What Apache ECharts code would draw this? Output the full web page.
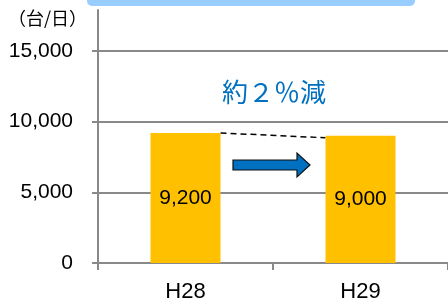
<!DOCTYPE html>
<html><head><meta charset="utf-8">
<script src="https://cdn.jsdelivr.net/npm/echarts@6/dist/echarts.min.js"></script>
<style>html,body{margin:0;padding:0;background:#fff}#c{width:448px;height:303px}</style>
</head><body><div id="c"></div>
<script>
var categories = ['H28', 'H29'];
var values = [9200, 9000];
var yTicks = [0, 5000, 10000, 15000];
var unitLabel = '（台/日）';
var noteText = '約２％減';

var chart = echarts.init(document.getElementById('c'), null, {renderer: 'canvas'});
var font = '"Liberation Sans", Arial, sans-serif';
chart.setOption({
  animation: false,
  grid: {left: 98, right: -2, top: 10, bottom: 37},
  xAxis: {
    type: 'category', data: categories, boundaryGap: true,
    axisLine: {lineStyle: {color: '#898989', width: 2}},
    axisTick: {show: true, length: 7, lineStyle: {color: '#898989', width: 2}},
    axisLabel: {color: '#000', fontSize: 22, fontFamily: font, margin: 18}
  },
  yAxis: {
    type: 'value', min: 0, max: 17900, interval: 5000,
    axisLine: {show: true, lineStyle: {color: '#898989', width: 2}},
    axisTick: {show: true, length: 6, inside: false, lineStyle: {color: '#898989', width: 2}},
    axisLabel: {color: '#000', fontSize: 21, fontFamily: font, margin: 25, showMaxLabel: false,
      formatter: function (v) { return yTicks.indexOf(v) >= 0 ? v.toLocaleString('en-US') : ''; }},
    splitLine: {show: true, showMaxLine: false, lineStyle: {color: '#898989', width: 2}}
  },
  series: [{
    type: 'bar', data: values, barWidth: 70,
    itemStyle: {color: '#FFC000'},
    label: {show: true, position: 'inside', color: '#000', fontSize: 21, fontFamily: font,
      formatter: function (p) { return p.value.toLocaleString('en-US'); }}
  }]
});

var p0 = chart.convertToPixel({gridIndex: 0}, [0, values[0]]);
var p1 = chart.convertToPixel({gridIndex: 0}, [1, values[1]]);
var half = 35;
chart.setOption({
  graphic: [
    {type: 'rect', shape: {x: 87, y: -10, width: 328, height: 16, r: 5}, style: {fill: '#99CCFF'}},
    {type: 'text', style: {text: unitLabel, x: 8, y: 18, verticalAlign: 'middle', fill: '#000', font: '18px "Noto Sans CJK JP", sans-serif'}},
    {type: 'text', style: {text: noteText, x: 274, y: 92, align: 'center', verticalAlign: 'middle', fill: '#0070C0',
      font: '26px "Noto Sans CJK JP", sans-serif'}},
    {type: 'line', shape: {x1: p0[0] + half, y1: p0[1], x2: p1[0] - half, y2: p1[1] + 2},
      style: {stroke: '#000', lineWidth: 1.5, lineDash: [6, 4]}},
    {type: 'polygon', shape: {points: [[233, 160], [297, 160], [297, 153], [310, 165], [297, 177], [297, 170], [233, 170]]},
      style: {fill: '#0070C0', stroke: '#111', lineWidth: 1.2}}
  ]
});
</script></body></html>
